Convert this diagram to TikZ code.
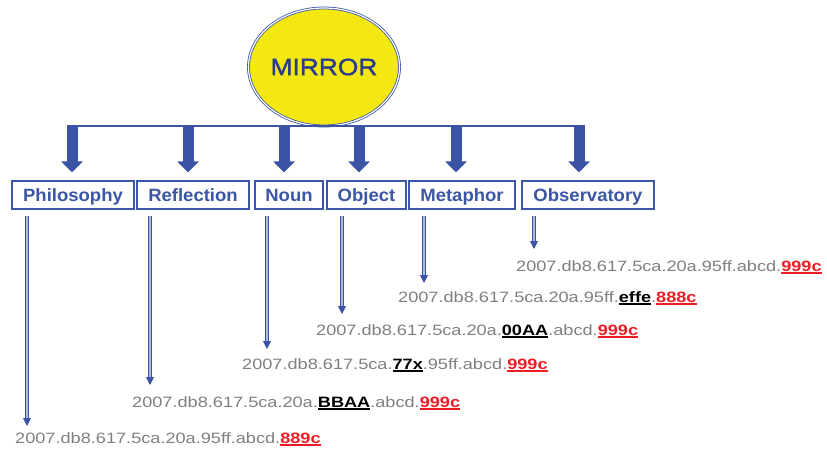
\documentclass[tikz,border=0pt]{standalone}
\usepackage{fontspec}
\setmainfont{Liberation Sans}
\newfontfamily\addrfont[FakeStretch=1.21]{Liberation Sans}
\newfontfamily\titlefont[FakeStretch=1.12,FakeBold=1.6]{Liberation Sans}
\newfontfamily\boxfont[FakeStretch=1.04]{Liberation Sans}
\usetikzlibrary{shapes.geometric,arrows.meta}
\definecolor{boxblue}{HTML}{3B56A5}
\definecolor{arrblue}{HTML}{3A53A4}
\definecolor{lightshaft}{HTML}{AEB9E2}
\definecolor{yel}{HTML}{F4E813}
\definecolor{navy}{HTML}{2B3C8C}
\definecolor{addrgray}{HTML}{7F7F7F}
\definecolor{addrred}{HTML}{EE1C25}
\newcommand\ulpart[1]{\setbox0\hbox{#1}\rlap{\rule[-3pt]{\wd0}{1.6pt}}\box0}
\newcommand\redpart[1]{{\color{addrred}\bfseries\ulpart{#1}}}
\newcommand\blkpart[1]{{\color{black}\bfseries\ulpart{#1}}}
\begin{document}
\begin{tikzpicture}[x=1pt,y=-1pt,
  labelbox/.style={draw=boxblue,line width=1.2pt,fill=white,minimum height=28pt,inner sep=0pt,
    text height=16pt,text depth=3pt,
    font=\boxfont\bfseries\fontsize{17.8}{20}\selectfont,text=boxblue},
  bigarrow/.style={arrblue,line width=11pt,-{Triangle[width=21pt,length=11pt]}},
  thinarrow/.style={draw=arrblue,line width=0.9pt,double=lightshaft,double distance=1.4pt,
    -{Triangle[width=8pt,length=8pt]}},
  addr/.style={anchor=base west,inner sep=0pt,font=\addrfont\fontsize{15}{18}\selectfont,text=addrgray},
  barline/.style={draw=boxblue,line width=1.5pt}]
\useasboundingbox (0,0) rectangle (827,449);

% central ellipse
\node[ellipse,fill=yel,draw=boxblue,line width=0.8pt,double=white,double distance=1.2pt,
  minimum width=142pt,minimum height=118pt,inner sep=0pt,
  font=\titlefont\fontsize{23.5}{26}\selectfont,text=navy] (mirror) at (324,67) {MIRROR};

% bar
\coordinate (t1) at (72,126);
\coordinate (t2) at (188,126);
\coordinate (t3) at (284,126);
\coordinate (t4) at (359,126);
\coordinate (t5) at (456,126);
\coordinate (t6) at (579,126);
\coordinate (barL) at (66.5,126);
\coordinate (barR) at (584.5,126);
\draw[barline] (barL) -- (barR);

% boxes
\node[labelbox,minimum width=122pt] (b1) at (73,195) {Philosophy};
\node[labelbox,minimum width=112pt] (b2) at (193,195) {Reflection};
\node[labelbox,minimum width=68pt] (b3) at (289,195) {Noun};
\node[labelbox,minimum width=79pt] (b4) at (366.5,195) {Object};
\node[labelbox,minimum width=106pt] (b5) at (462,195) {Metaphor};
\node[labelbox,minimum width=132pt] (b6) at (588,195) {Observatory};

% thick arrows
\foreach \i in {1,...,6}{
  \draw[bigarrow] (t\i) -- ([yshift=8pt]t\i |- b\i.north);
}

% addresses
\node[addr] (a6) at (516,271) {2007.db8.617.5ca.20a.95ff.abcd.\redpart{999c}};
\node[addr] (a5) at (398,302) {2007.db8.617.5ca.20a.95ff.\blkpart{effe}.\redpart{888c}};
\node[addr] (a4) at (316,335) {2007.db8.617.5ca.20a.\blkpart{00AA}.abcd.\redpart{999c}};
\node[addr] (a3) at (242,369) {2007.db8.617.5ca.\blkpart{77x}.95ff.abcd.\redpart{999c}};
\node[addr] (a2) at (132,407) {2007.db8.617.5ca.20a.\blkpart{BBAA}.abcd.\redpart{999c}};
\node[addr] (a1) at (15,443) {2007.db8.617.5ca.20a.95ff.abcd.\redpart{889c}};

% thin arrows
\coordinate (s1) at (27,216);  \coordinate (e1) at (27,426);
\coordinate (s2) at (150,216); \coordinate (e2) at (150,385);
\coordinate (s3) at (267,216); \coordinate (e3) at (267,349);
\coordinate (s4) at (342,216); \coordinate (e4) at (342,314);
\coordinate (s5) at (424,216); \coordinate (e5) at (424,283);
\coordinate (s6) at (534,216); \coordinate (e6) at (534,249);
\foreach \i in {1,...,6}{
  \draw[thinarrow] (s\i) -- (e\i);
}
\end{tikzpicture}
\end{document}
